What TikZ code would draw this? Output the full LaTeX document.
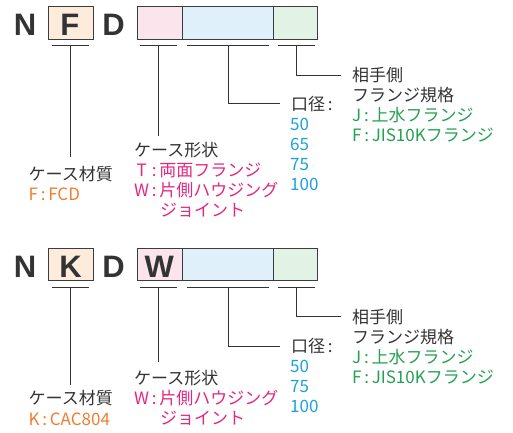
\documentclass[tikz,border=0pt]{standalone}
\usepackage{fontspec}
\usepackage{calc}
\setmainfont{Noto Sans CJK JP}
\newfontfamily\letterfont{Liberation Sans}
\definecolor{txt}{HTML}{333333}
\definecolor{boxline}{HTML}{3C3C3C}
\definecolor{corange}{HTML}{EF7D31}
\definecolor{cpink}{HTML}{E5267E}
\definecolor{cblue}{HTML}{1BA1DC}
\definecolor{cgreen}{HTML}{24A052}
\definecolor{fillO}{HTML}{FDEBDC}
\definecolor{fillP}{HTML}{FCE4EC}
\definecolor{fillB}{HTML}{DFF0FA}
\definecolor{fillG}{HTML}{E2F2E4}
\newcommand\cln{\makebox[0.6em]{:}}
\begin{document}
\begin{tikzpicture}[x=1pt,y=-1pt,
  lab/.style={inner sep=0pt, anchor=base west, font=\fontsize{17}{20}\selectfont, text=txt},
  letter/.style={inner sep=0pt, anchor=base, font=\letterfont\bfseries\fontsize{31}{31}\selectfont, text=txt},
  codebox/.style={draw=boxline, line width=0.8pt, inner sep=0pt, anchor=north west, minimum height=33pt},
  conn/.style={draw=txt, line width=0.9pt}]
\useasboundingbox (0,0) rectangle (513,432);

% ===== top row =====
\node[codebox, fill=fillO, minimum width=45pt] (fbA) at (47.7,6) {};
\node[codebox, fill=fillP, minimum width=45pt] (pbA) at (137.3,6) {};
\node[codebox, fill=fillB, minimum width=90.4pt] (bbA) at (182.3,6) {};
\node[codebox, fill=fillG, minimum width=44.6pt] (gbA) at (272.7,6) {};
\node[letter] (nA) at (25,35) {N};
\node[letter] (fA) at (69.8,35) {F};
\node[letter] (dA) at (113.5,35) {D};

\coordinate (uFa1) at (52,45.7);  \coordinate (uFa2) at (89,45.7);
\coordinate (uPa1) at (140,45.7); \coordinate (uPa2) at (177,45.7);
\coordinate (uBa1) at (187,45.7); \coordinate (uBa2) at (269,45.7);
\coordinate (uGa1) at (278,45.7); \coordinate (uGa2) at (315,45.7);
\coordinate (mFa) at (70.3,45.7);  \coordinate (eFa) at (70.3,156.7);
\coordinate (mPa) at (158.7,45.7); \coordinate (ePa) at (158.7,136);
\coordinate (mBa) at (228.7,45.7); \coordinate (eBa) at (280,103.3);
\coordinate (mGa) at (296.7,45.7); \coordinate (eGa) at (341,75);
\draw[conn] (uFa1) -- (uFa2);
\draw[conn] (uPa1) -- (uPa2);
\draw[conn] (uBa1) -- (uBa2);
\draw[conn] (uGa1) -- (uGa2);
\draw[conn] (mFa) -- (eFa);
\draw[conn] (mPa) -- (ePa);
\draw[conn] (mBa) |- (eBa);
\draw[conn] (mGa) |- (eGa);

\node[lab] (matA) at (28.5,180) {ケース材質};
\node[lab, text=corange] (matA1) at (28.5,200) {F\cln FCD};
\node[lab] (shpA) at (134,156) {ケース形状};
\node[lab, text=cpink] (shpA1) at (134,176.5) {\makebox[\widthof{W}]{T}\cln 両面フランジ};
\node[lab, text=cpink] (shpA2) at (134,196.5) {W\cln 片側ハウジング};
\node[lab, text=cpink] (shpA3) at (160,216.5) {ジョイント};
\node[lab] (diaA) at (291,110) {口径\cln};
\node[lab, text=cblue] (diaA1) at (290,130) {50};
\node[lab, text=cblue] (diaA2) at (290,150) {65};
\node[lab, text=cblue] (diaA3) at (290,170) {75};
\node[lab, text=cblue] (diaA4) at (290,190) {100};
\node[lab] (flgA) at (352,81.5) {相手側};
\node[lab] (flgA0) at (352,101.5) {フランジ規格};
\node[lab, text=cgreen] (flgA1) at (352,121.5) {J\cln 上水フランジ};
\node[lab, text=cgreen] (flgA2) at (352,141.5) {F\cln JIS10Kフランジ};

% ===== bottom row =====
\node[codebox, fill=fillO, minimum width=45pt, minimum height=32.5pt] (fbB) at (47.7,247.5) {};
\node[codebox, fill=fillP, minimum width=45pt, minimum height=32.5pt] (pbB) at (137.3,247.5) {};
\node[codebox, fill=fillB, minimum width=90.4pt, minimum height=32.5pt] (bbB) at (182.3,247.5) {};
\node[codebox, fill=fillG, minimum width=44.6pt, minimum height=32.5pt] (gbB) at (272.7,247.5) {};
\node[letter] (nB) at (25,277) {N};
\node[letter] (kB) at (70.5,277) {K};
\node[letter] (dB) at (113.5,277) {D};
\node[letter] (wB) at (159.3,277) {W};

\coordinate (uFb1) at (52,287.7);  \coordinate (uFb2) at (89,287.7);
\coordinate (uPb1) at (140,287.7); \coordinate (uPb2) at (177,287.7);
\coordinate (uBb1) at (187,287.7); \coordinate (uBb2) at (269,287.7);
\coordinate (uGb1) at (278,287.7); \coordinate (uGb2) at (315,287.7);
\coordinate (mFb) at (70.3,287.7);  \coordinate (eFb) at (70.3,385);
\coordinate (mPb) at (158.7,287.7); \coordinate (ePb) at (158.7,361.7);
\coordinate (mBb) at (228.7,287.7); \coordinate (eBb) at (280,346.7);
\coordinate (mGb) at (296.7,287.7); \coordinate (eGb) at (341,316.7);
\draw[conn] (uFb1) -- (uFb2);
\draw[conn] (uPb1) -- (uPb2);
\draw[conn] (uBb1) -- (uBb2);
\draw[conn] (uGb1) -- (uGb2);
\draw[conn] (mFb) -- (eFb);
\draw[conn] (mPb) -- (ePb);
\draw[conn] (mBb) |- (eBb);
\draw[conn] (mGb) |- (eGb);

\node[lab] (matB) at (28.5,404.5) {ケース材質};
\node[lab, text=corange] (matB1) at (28.5,425) {K\cln CAC804};
\node[lab] (shpB) at (134,384) {ケース形状};
\node[lab, text=cpink] (shpB1) at (134,404) {W\cln 片側ハウジング};
\node[lab, text=cpink] (shpB2) at (160,424) {ジョイント};
\node[lab] (diaB) at (291,352) {口径\cln};
\node[lab, text=cblue] (diaB1) at (290,372) {50};
\node[lab, text=cblue] (diaB2) at (290,392) {75};
\node[lab, text=cblue] (diaB3) at (290,412) {100};
\node[lab] (flgB) at (352,323.5) {相手側};
\node[lab] (flgB0) at (352,343.5) {フランジ規格};
\node[lab, text=cgreen] (flgB1) at (352,363.5) {J\cln 上水フランジ};
\node[lab, text=cgreen] (flgB2) at (352,383.5) {F\cln JIS10Kフランジ};
\end{tikzpicture}
\end{document}
